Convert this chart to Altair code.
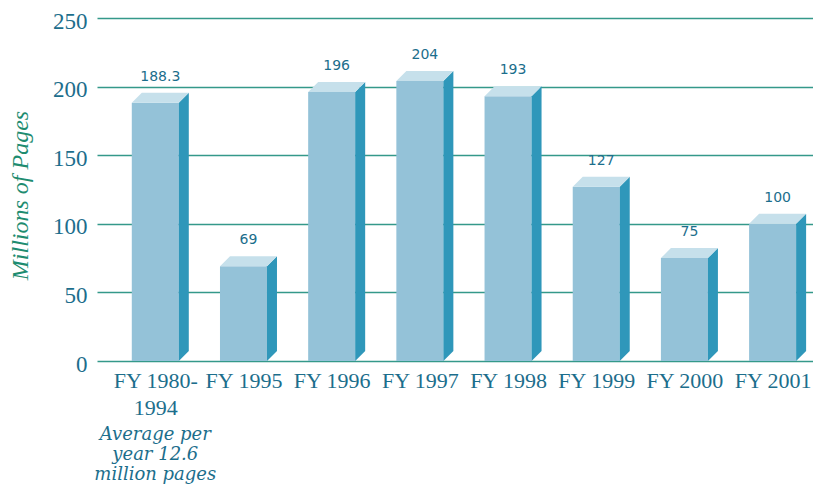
import json
import altair as alt
import pandas as pd

# ---- data ----
categories = ["FY 1980-\n1994", "FY 1995", "FY 1996", "FY 1997",
              "FY 1998", "FY 1999", "FY 2000", "FY 2001"]
values = [188.3, 69, 196, 204, 193, 127, 75, 100]
value_labels = ["188.3", "69", "196", "204", "193", "127", "75", "100"]
y_ticks = [0, 50, 100, 150, 200, 250]
note_lines = ["Average per", "year 12.6", "million pages"]
y_title = "Millions of Pages"

# ---- styling ----
FRONT = "#94C2D8"
SIDE = "#2F97BA"
TOP = "#C6E0EB"
GRID = "#34998A"
LABEL = "#1C6E8C"
TITLE = "#1E8C70"

HW = 0.2665   # half width of front face (index units)
DX = 0.1134   # depth offset in x (index units)
DY = 7.29     # depth offset in y (value units)

n = len(categories)
bars = pd.DataFrame({
    "i": list(range(n)),
    "value": values,
    "label": value_labels,
})
bars["x1"] = bars["i"] - HW
bars["x2"] = bars["i"] + HW
bars["zero"] = 0.0
bars["lx"] = bars["i"] + DX / 2
bars["ly"] = bars["value"] + DY

side_rows, top_rows = [], []
for i, v in zip(range(n), values):
    side_rows.append({"i": i, "x": i + HW, "y": v, "y2": 0.0})
    side_rows.append({"i": i, "x": i + HW + DX, "y": v + DY, "y2": DY})
    top_rows.append({"i": i, "x": i - HW, "y": v, "y2": v})
    top_rows.append({"i": i, "x": i - HW + DX, "y": v + DY, "y2": v})
    top_rows.append({"i": i, "x": i + HW, "y": v + DY, "y2": v})
    top_rows.append({"i": i, "x": i + HW + DX, "y": v + DY, "y2": v + DY})
side = pd.DataFrame(side_rows)
top = pd.DataFrame(top_rows)

x_scale = alt.Scale(domain=[-0.661, 7.458], nice=False, zero=False)
y_scale = alt.Scale(domain=[0, 250], nice=False)

label_expr = "split(" + json.dumps(categories) + "[round(datum.value)], '\\n')"

x_axis = alt.Axis(
    title=None, values=list(range(n)), labelExpr=label_expr,
    grid=False, ticks=False, domain=False,
    labelFont="Liberation Serif", labelFontSize=22, labelColor=LABEL,
    labelPadding=9, labelLineHeight=27, labelOverlap=False,
    labelFlush=False, labelBound=False,
)
y_axis = alt.Axis(
    title=y_title, values=y_ticks, grid=True, gridColor=GRID, gridWidth=1.6,
    ticks=False, domain=False,
    labelFont="Liberation Serif", labelFontSize=23, labelColor=LABEL,
    labelPadding=10, labelBaseline="middle", labelOffset=3,
    titleFont="Liberation Serif", titleFontSize=24, titleFontStyle="italic",
    titleFontWeight="normal", titleColor=TITLE, titleAngle=270,
    titleX=-70, titleY=177, titleAlign="center", titleBaseline="alphabetic",
)

front = alt.Chart(bars).mark_rect(color=FRONT).encode(
    x=alt.X("x1:Q", scale=x_scale, axis=x_axis),
    x2="x2:Q",
    y=alt.Y("value:Q", scale=y_scale, axis=y_axis),
    y2="zero:Q",
)

side_face = alt.Chart(side).mark_area(color=SIDE).encode(
    x=alt.X("x:Q", scale=x_scale, axis=x_axis),
    y=alt.Y("y:Q", scale=y_scale, axis=y_axis),
    y2="y2:Q",
    detail="i:N",
)

top_face = alt.Chart(top).mark_area(color=TOP).encode(
    x=alt.X("x:Q", scale=x_scale, axis=x_axis),
    y=alt.Y("y:Q", scale=y_scale, axis=y_axis),
    y2="y2:Q",
    detail="i:N",
)

labels = alt.Chart(bars).mark_text(
    font="DejaVu Sans", fontSize=14, color=LABEL, baseline="middle",
    align="center", dy=-16,
).encode(
    x=alt.X("lx:Q", scale=x_scale, axis=x_axis),
    y=alt.Y("ly:Q", scale=y_scale, axis=y_axis),
    text="label:N",
)

note = alt.Chart(pd.DataFrame({"i": [0]})).mark_text(
    text=note_lines, font="DejaVu Serif", fontStyle="italic", fontSize=18,
    color=LABEL, align="center", baseline="top", lineHeight=20,
).encode(
    x=alt.X("i:Q", scale=x_scale, axis=x_axis),
    y=alt.value(408),
)

chart = alt.layer(front, side_face, top_face, labels, note).properties(
    width=716, height=343,
    autosize=alt.AutoSizeParams(type="none"),
    padding={"left": 89, "top": 10, "right": 0, "bottom": 135},
).configure_view(strokeWidth=0)

chart.save("out.html", embed_options={"renderer": "svg", "actions": False})
